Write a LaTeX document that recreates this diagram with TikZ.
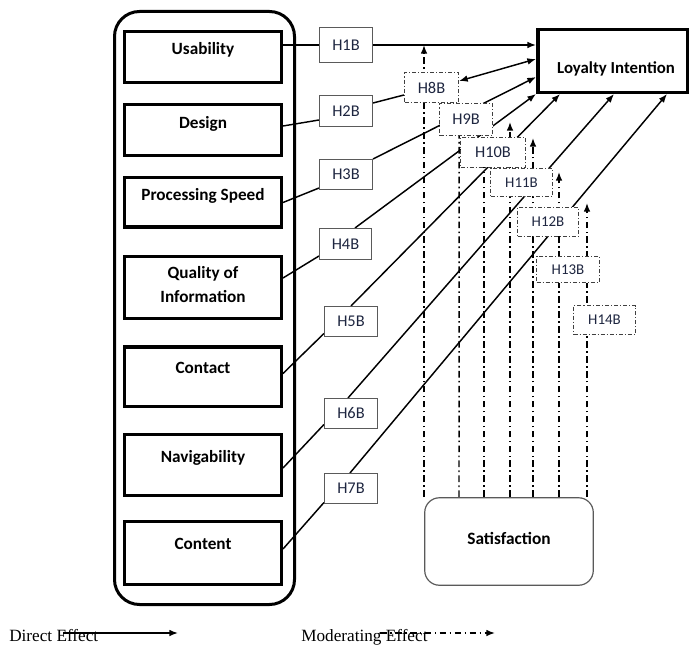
\documentclass[tikz,border=0pt]{standalone}
\usepackage{fontspec}
\setmainfont{Carlito}
\newfontfamily\timesf{Liberation Serif}
\usetikzlibrary{arrows.meta,calc,backgrounds}
\definecolor{hbord}{HTML}{5A5A5A}
\definecolor{mbord}{HTML}{404040}
\definecolor{htext}{HTML}{1E2640}
\begin{document}
\begin{tikzpicture}[x=0.75pt,y=-0.75pt,
  factor/.style={draw, line width=2.6pt, fill=white, inner sep=0pt, minimum width=117.4pt},
  ftext/.style={font=\fontsize{12.9pt}{18pt}\selectfont\bfseries, align=center, inner sep=0pt},
  hbox/.style={draw=hbord, line width=0.8pt, fill=white, inner sep=0pt, text=htext,
    font=\fontsize{12.3pt}{14pt}\selectfont},
  mbox/.style={draw=mbord, line width=0.85pt, fill=white, inner sep=0pt, text=htext,
    dash pattern=on 3pt off 1.5pt on 0.8pt off 1.5pt, font=\fontsize{12.3pt}{14pt}\selectfont},
  msmall/.style={font=\fontsize{11.2pt}{13pt}\selectfont},
  conn/.style={line width=1.1pt},
  arr/.style={-{Latex[length=6.5pt,width=5pt]}},
  modl/.style={line width=1.1pt, dash pattern=on 5pt off 2.5pt on 1.2pt off 2.5pt},
  legtext/.style={font=\timesf\fontsize{12.9pt}{14pt}\selectfont, inner sep=0pt, anchor=base west}
]
\useasboundingbox (0,0) rectangle (691,648);

% group of factors
\node[draw, line width=2.25pt, rounded corners=18.75pt, minimum width=135pt, minimum height=444.75pt, inner sep=0pt] (grp) at (204.5,308) {};

% factor boxes
\node[factor, minimum height=37.9pt] (usa) at (203,57) {};
\node[factor, minimum height=37.9pt] (des) at (203,130) {};
\node[factor, minimum height=37.1pt] (ps) at (203,202.5) {};
\node[factor, minimum height=46.1pt] (qoi) at (203,287.5) {};
\node[factor, minimum height=44.6pt] (con) at (203,376.5) {};
\node[factor, minimum height=45.4pt] (nav) at (203,465) {};
\node[factor, minimum height=46.9pt] (cnt) at (203,553) {};

\node[ftext, anchor=base] (usaT) at (203,54.5) {Usability};
\node[ftext, anchor=base] (desT) at (203,128.5) {Design};
\node[ftext, anchor=base] (psT) at (203,200.5) {Processing Speed};
\node[ftext] (qoiT) at (203,285) {Quality of\\Information};
\node[ftext, anchor=base] (conT) at (203,373.5) {Contact};
\node[ftext, anchor=base] (navT) at (203,462.5) {Navigability};
\node[ftext, anchor=base] (cntT) at (203,549.5) {Content};

% outcome
\node[draw, line width=2.6pt, fill=white, inner sep=0pt, minimum width=112.1pt, minimum height=46.9pt] (LI) at (612.5,61) {};
\node[ftext, font=\fontsize{12.6pt}{15pt}\selectfont\bfseries, anchor=base] (LIT) at (616,73.5) {Loyalty Intention};

% moderator
\node[draw=hbord, line width=0.9pt, rounded corners=11pt, fill=white, inner sep=0pt, minimum width=126.4pt, minimum height=65.6pt] (sat) at (509,541.5) {};
\node[ftext, font=\fontsize{13pt}{15pt}\selectfont\bfseries, anchor=base] (satT) at (509,544.5) {Satisfaction};

% direct hypothesis boxes
\node[hbox, minimum width=39.75pt, minimum height=26.25pt] (H1B) at (346,45) {H1B};
\node[hbox, minimum width=39.75pt, minimum height=23.25pt] (H2B) at (346,111) {H2B};
\node[hbox, minimum width=39.75pt, minimum height=22.5pt] (H3B) at (346,174.5) {H3B};
\node[hbox, minimum width=39pt, minimum height=23.25pt] (H4B) at (345.5,244) {H4B};
\node[hbox, minimum width=39.75pt, minimum height=22.5pt] (H5B) at (351,321.5) {H5B};
\node[hbox, minimum width=39.75pt, minimum height=22.5pt] (H6B) at (351,413.5) {H6B};
\node[hbox, minimum width=39.75pt, minimum height=22.5pt] (H7B) at (351,488.5) {H7B};

% moderating hypothesis boxes
\node[mbox, minimum width=40.5pt, minimum height=22.5pt] (H8B) at (431.5,87.5) {H8B};
\node[mbox, minimum width=39.75pt, minimum height=24pt] (H9B) at (466,119.5) {H9B};
\node[mbox, minimum width=48.75pt, minimum height=22.5pt] (H10B) at (493,152.5) {H10B};
\node[mbox, msmall, minimum width=46.5pt, minimum height=21pt] (H11B) at (521.5,182.5) {H11B};
\node[mbox, msmall, minimum width=45.75pt, minimum height=21.75pt] (H12B) at (548,222) {H12B};
\node[mbox, msmall, minimum width=47.25pt, minimum height=19.5pt] (H13B) at (568,269.5) {H13B};
\node[mbox, msmall, minimum width=46.5pt, minimum height=21.75pt] (H14B) at (604.5,320) {H14B};

% moderating line ends
\coordinate (m1) at (424,497);
\coordinate (m2) at (459,497);
\coordinate (m3) at (484,497);
\coordinate (m4) at (510,497);
\coordinate (m5) at (533,497);
\coordinate (m6) at (559,497);
\coordinate (m7) at (587,497);
\coordinate (t4) at (510,122);
\coordinate (t5) at (533,138);
\coordinate (t6) at (559,172);
\coordinate (t7) at (587,203);

\begin{pgfonlayer}{background}
  % direct effects
  \draw[conn] (usa.east |- H1B.west) -- (H1B.west);
  \draw[conn, arr] (H1B.east) -- (LI.west |- H1B.east);

  \draw[conn] ($(des.east)+(0,-4)$) -- ($(H2B.west)+(0,9)$);
  \draw[conn] ($(H2B.east)+(0,-8)$) -- ($(H8B.west)+(0,7.5)$);
  \draw[conn, {Latex[length=6.5pt,width=5pt]}-{Latex[length=6.5pt,width=5pt]}] ($(H8B.east)+(0,-6.5)$) -- ($(LI.west)+(0,-2)$);

  \draw[conn] (ps.east) -- ($(H3B.south west)+(0,-2)$);
  \draw[conn, arr] (H3B.north east) -- ($(LI.west)+(0,16)$);

  \draw[conn] ($(qoi.east)+(0,-9.5)$) -- ($(H4B.west)+(0,12)$);
  \draw[conn, arr] ($(H4B.north)+(9.5,0)$) -- (LI.south west);

  \draw[conn] ($(con.east)+(0,-3)$) -- ($(H5B.west)+(0,12)$);
  \draw[conn, arr] (H5B.north) -- ($(LI.south west)+(24,0)$);

  \draw[conn] ($(nav.east)+(0,3)$) -- ($(H6B.west)+(0,11)$);
  \draw[conn, arr] ($(H6B.north)+(-3,0)$) -- ($(LI.south west)+(78,0)$);

  \draw[conn] ($(cnt.east)+(0,-4)$) -- ($(H7B.west)+(0,14)$);
  \draw[conn, arr] ($(H7B.north)+(-1,0)$) -- ($(LI.south west)+(131,0)$);

  % moderating effects
  \draw[modl, arr] (m1) -- (m1 |- H1B.east);
  \draw[modl] (m2) -- (H8B.south east);
  \draw[modl] (m3) -- (m3 |- H10B.north);
  \draw[modl, arr] (m4) -- (t4);
  \draw[modl, arr] (m5) -- (t5);
  \draw[modl, arr] (m6) -- (t6);
  \draw[modl, arr] (m7) -- (t7);
\end{pgfonlayer}

% legend
\node[legtext] (dlab) at (9,641) {Direct Effect};
\coordinate (d1) at (63,633);
\coordinate (d2) at (178,633);
\draw[conn, arr] (d1) -- (d2);
\node[legtext] (mlab) at (301,641) {Moderating Effect};
\coordinate (e1) at (380,633);
\coordinate (e2) at (495,633);
\draw[modl, arr] (e1) -- (e2);
\end{tikzpicture}
\end{document}
